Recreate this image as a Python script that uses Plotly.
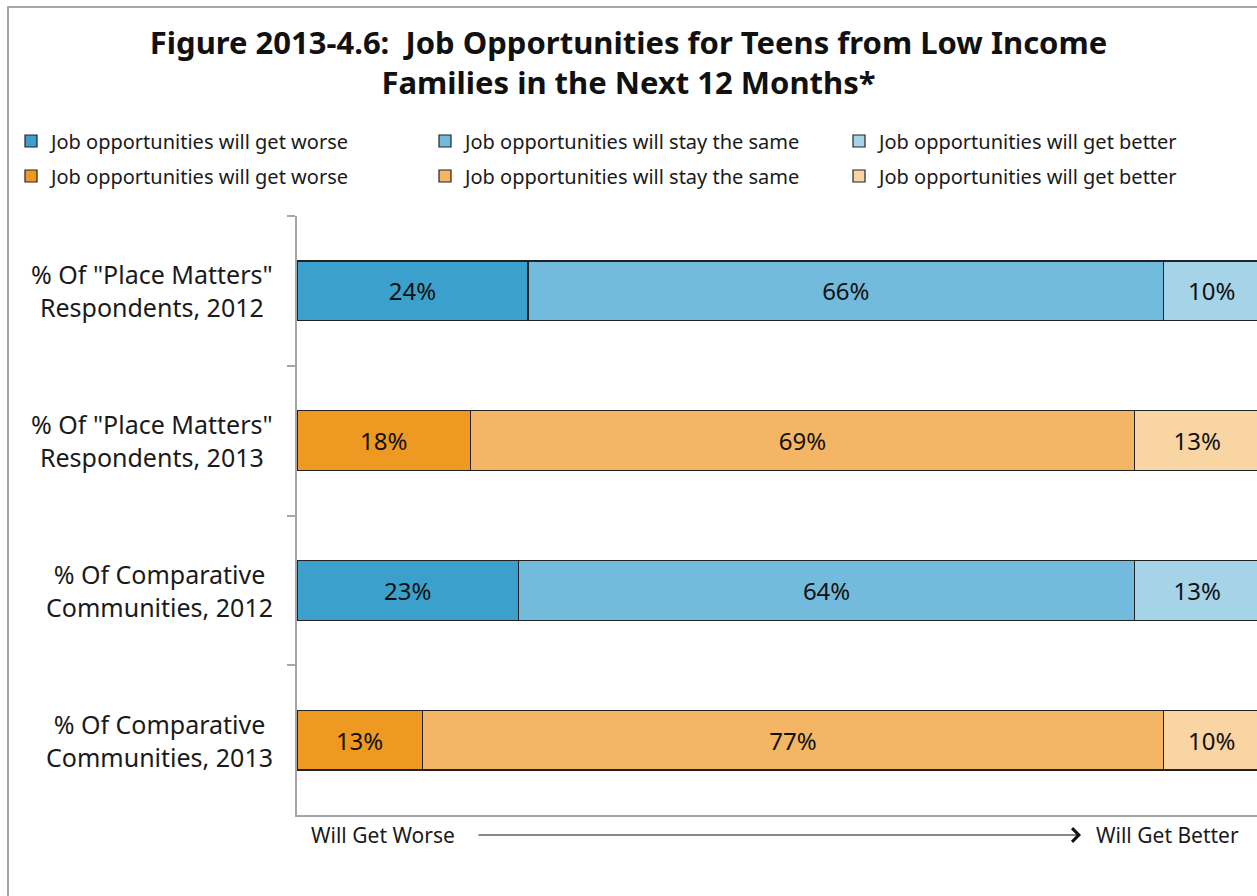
import plotly.graph_objects as go

# Survey rows (top to bottom) and the share of answers in each category
categories = [
    '% Of "Place Matters"<br>Respondents, 2012',
    '% Of "Place Matters"<br>Respondents, 2013',
    '% Of Comparative<br>Communities, 2012',
    '% Of Comparative<br>Communities, 2013',
]
rows_2012 = [categories[0], categories[2]]
rows_2013 = [categories[1], categories[3]]

series_names = [
    "Job opportunities will get worse",
    "Job opportunities will stay the same",
    "Job opportunities will get better",
]
values_2012 = {
    "worse": [24, 23],
    "same": [66, 64],
    "better": [10, 13],
}
values_2013 = {
    "worse": [18, 13],
    "same": [69, 77],
    "better": [13, 10],
}

blues = ["#3ba0cc", "#73bbdc", "#a5d3e7"]
oranges = ["#ee9a22", "#f4b664", "#f8d5a3"]

FONT = "Noto Sans"
W, H = 1257, 896
L, R, T, B = 297, 0, 216, 81
PW, PH = W - L - R, H - T - B

fig = go.Figure()

keys = ["worse", "same", "better"]
legend_ids = [["legend", "legend2", "legend3"], ["legend4", "legend5", "legend6"]]
for group, (rows, vals, colors) in enumerate(
        [(rows_2012, values_2012, blues), (rows_2013, values_2013, oranges)]):
    for i, k in enumerate(keys):
        fig.add_trace(go.Bar(
            y=rows, x=vals[k], orientation="h",
            name=series_names[i], legend=legend_ids[group][i],
            marker=dict(color=colors[i], line=dict(color="#222222", width=1.2)),
            texttemplate="%{x}%", textposition="inside", insidetextanchor="middle",
            textfont=dict(family=FONT, size=24, color="#111111"),
            cliponaxis=True, hoverinfo="skip",
        ))

# One legend box per entry so the 3 x 2 grid sits exactly in place
legend_cols_px = [11, 425, 839]
legend_rows_px = [141, 176]
legend_layout = {}
for r, row_ids in enumerate(legend_ids):
    for c, lid in enumerate(row_ids):
        legend_layout[lid] = dict(
            orientation="h", xref="container", yref="container",
            x=legend_cols_px[c] / W, xanchor="left",
            y=1 - legend_rows_px[r] / H, yanchor="middle",
            font=dict(family=FONT, size=20, color="#1a1a1a"),
            bgcolor="rgba(0,0,0,0)",
        )

annotations = []
# Category labels, centred line by line to the left of the axis
for c in categories:
    annotations.append(dict(
        x=-22 / PW, xref="paper", xanchor="right",
        y=c, yref="y", yanchor="middle",
        text=c, showarrow=False, align="center",
        font=dict(family=FONT, size=25, color="#1a1a1a"),
    ))

# Direction guide under the bars
y_guide = -(835 - (T + PH)) / PH
annotations.append(dict(
    x=(309 - L) / PW, xref="paper", xanchor="left",
    y=y_guide, yref="paper", yanchor="middle",
    text="Will Get Worse", showarrow=False,
    font=dict(family=FONT, size=21, color="#1a1a1a"),
))
annotations.append(dict(
    x=(1094 - L) / PW, xref="paper", xanchor="left",
    y=y_guide, yref="paper", yanchor="middle",
    text="Will Get Better", showarrow=False,
    font=dict(family=FONT, size=21, color="#1a1a1a"),
))
annotations.append(dict(
    x=(1081 - L) / PW, xref="paper", y=y_guide, yref="paper",
    ax=-(1081 - 477), ay=0, axref="pixel", ayref="pixel",
    text="", showarrow=True, arrowhead=4, arrowsize=2.2, arrowwidth=1.2,
    arrowcolor="#111111",
))

# Outer chart frame
frame = dict(
    type="rect", xref="paper", yref="paper",
    x0=(8 - L) / PW, x1=(W + 20 - L) / PW,
    y0=-(H + 20 - (T + PH)) / PH, y1=1 + (T - 7) / PH,
    line=dict(color="#a6a6a6", width=2), fillcolor="rgba(0,0,0,0)",
    layer="below",
)

fig.update_layout(
    width=W, height=H,
    margin=dict(l=L, r=R, t=T, b=B),
    paper_bgcolor="white", plot_bgcolor="white",
    barmode="stack", bargap=0.6,
    showlegend=True,
    title=dict(
        text="Figure 2013-4.6:  Job Opportunities for Teens from Low Income<br>Families in the Next 12 Months*",
        x=0.5, xref="container", xanchor="center",
        y=1 - 54 / H, yref="container", yanchor="middle",
        font=dict(family=FONT, size=31, color="#111111", weight="bold"),
    ),
    xaxis=dict(
        range=[0, 99.7], showticklabels=False, ticks="",
        showgrid=False, zeroline=False,
        showline=True, linecolor="#a6a6a6", linewidth=1.5,
        fixedrange=True,
    ),
    yaxis=dict(
        type="category", categoryorder="array", categoryarray=categories,
        range=[3.5, -0.5], tickson="boundaries",
        ticks="outside", ticklen=8, tickcolor="#a6a6a6", tickwidth=1.5,
        showticklabels=False, showgrid=False, zeroline=False,
        showline=True, linecolor="#a6a6a6", linewidth=1.5,
        fixedrange=True,
    ),
    annotations=annotations,
    shapes=[frame],
    **legend_layout,
)

fig.write_html("out.html")
